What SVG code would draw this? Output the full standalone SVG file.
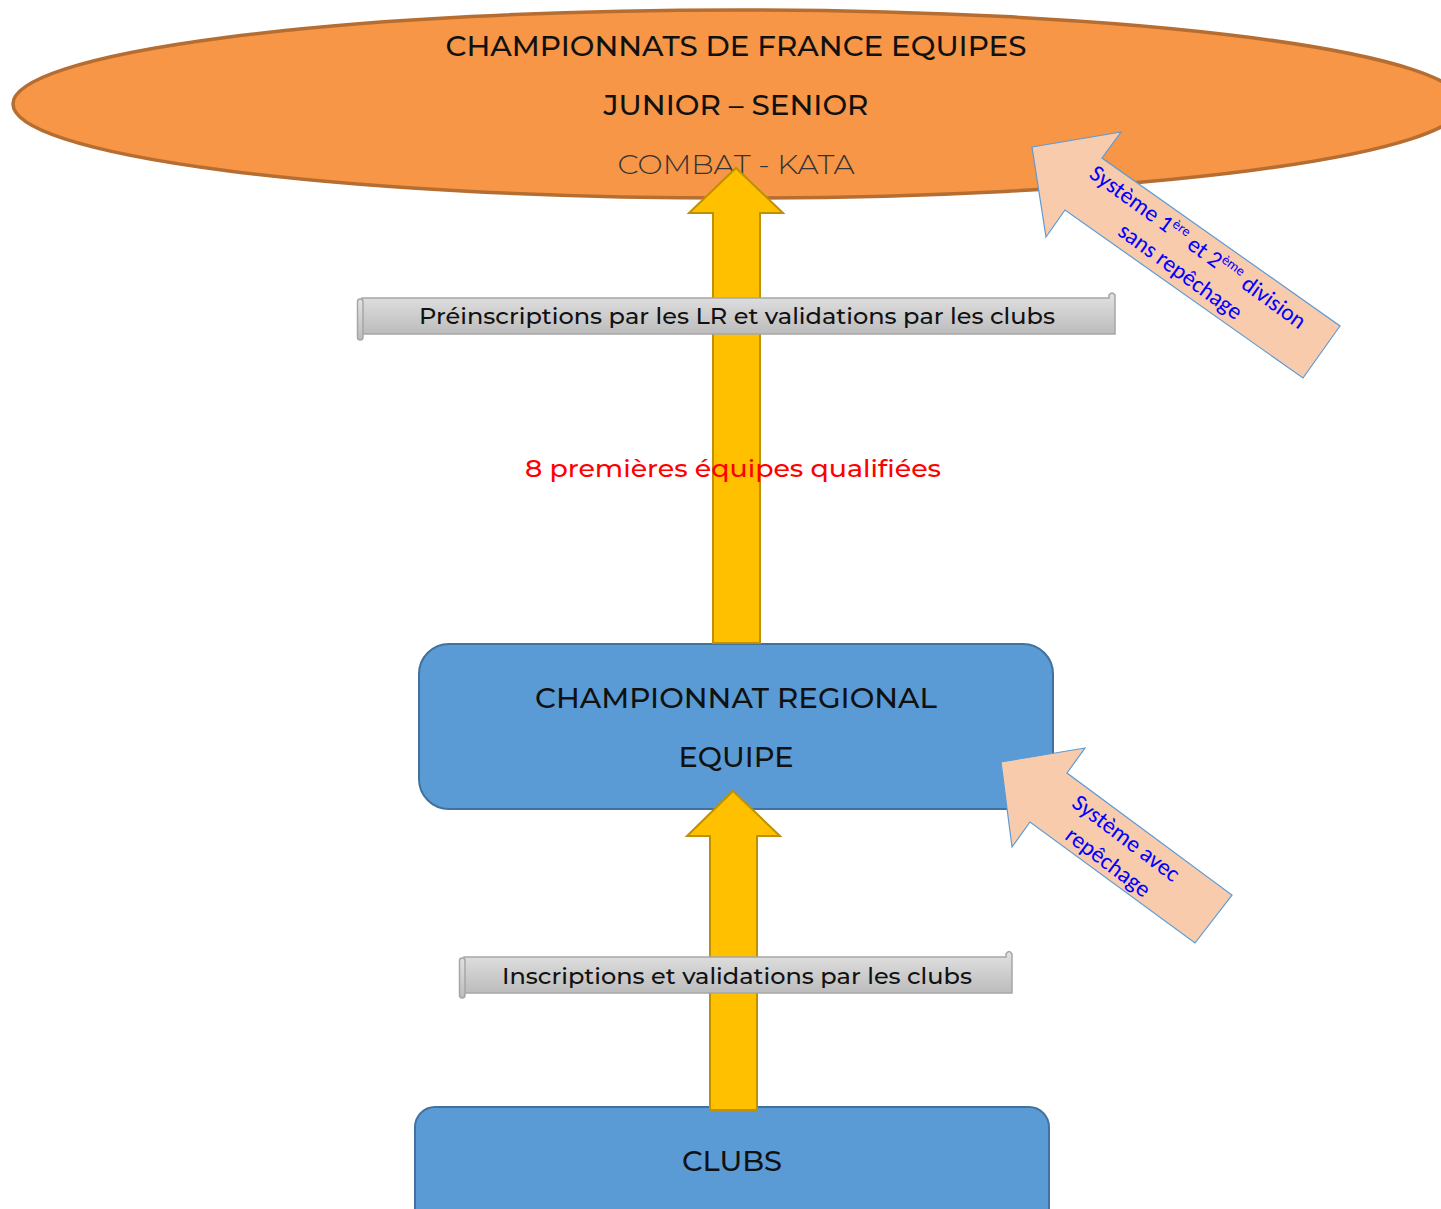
<svg xmlns="http://www.w3.org/2000/svg" width="1441" height="1209" viewBox="0 0 1441 1209">
<defs>
<linearGradient id="gray" x1="0" y1="0" x2="0" y2="1">
<stop offset="0" stop-color="#e2e2e2"/>
<stop offset="1" stop-color="#bcbcbc"/>
</linearGradient>
<style>
.t{font-family:Montserrat,"Inter","Open Sans",sans-serif;fill:#111;font-weight:500;}
.big{font-size:27px;text-anchor:middle;}
.ban{font-size:22px;text-anchor:middle;}
.blue{fill:#5B9BD5;stroke:#41719C;stroke-width:2;}
.yel{fill:#FFC000;stroke:#BF9000;stroke-width:2;}
.peach{fill:#F8CBAD;stroke:#5B9BD5;stroke-width:1.2;}
.scroll{fill:url(#gray);stroke:#a6a6a6;stroke-width:1.5;}
.d{font-family:Carlito,"Noto Sans","Open Sans",sans-serif;fill:#0000FF;font-size:23.5px;text-anchor:middle;}
</style>
</defs>
<g id="france">
<ellipse cx="738" cy="104" rx="725" ry="94" fill="#F79646" stroke="#B66D31" stroke-width="3.5"/>
<text class="t big" x="736" y="56" textLength="581" lengthAdjust="spacingAndGlyphs">CHAMPIONNATS DE FRANCE EQUIPES</text>
<text class="t big" x="736" y="115" textLength="265" lengthAdjust="spacingAndGlyphs">JUNIOR – SENIOR</text>
<text class="t big" x="736" y="174" textLength="237" lengthAdjust="spacingAndGlyphs" style="fill:#333;font-weight:300">COMBAT - KATA</text>
</g>
<g id="regional">
<rect class="blue" x="419" y="644" width="634" height="165" rx="30"/>
<text class="t big" x="736" y="708" textLength="402" lengthAdjust="spacingAndGlyphs">CHAMPIONNAT REGIONAL</text>
<text class="t big" x="736" y="767" textLength="115" lengthAdjust="spacingAndGlyphs">EQUIPE</text>
</g>
<g id="clubs">
<rect class="blue" x="415" y="1107" width="634" height="160" rx="20"/>
<text class="t big" x="732" y="1171" textLength="100" lengthAdjust="spacingAndGlyphs">CLUBS</text>
</g>
<g id="connectors">
<path class="yel" d="M713,643 L713,213 L689,213 L736,168 L783,213 L760,213 L760,643 Z"/>
<path class="yel" d="M710,1110 L710,836 L687,836 L733,791 L780,836 L757,836 L757,1110 Z"/>
</g>
<g id="banner1">
<path class="scroll" d="M362,298 L1109,298 L1109,295 Q1112,291 1115,295 L1115,334 L362,334 Z"/>
<rect class="scroll" x="357.5" y="299" width="5.5" height="41" rx="2.7"/>
<text class="t ban" x="737" y="324" textLength="636" lengthAdjust="spacingAndGlyphs">Préinscriptions par les LR et validations par les clubs</text>
</g>
<g id="label-qualif">
<text class="t" x="733" y="477" font-size="24" text-anchor="middle" style="fill:#FF0000" textLength="416" lengthAdjust="spacingAndGlyphs">8 premières équipes qualifiées</text>
</g>
<g id="banner2">
<path class="scroll" d="M464,957 L1006,957 L1006,954 Q1009,949 1012,954 L1012,993 L464,993 Z"/>
<rect class="scroll" x="459.5" y="958" width="5.5" height="40" rx="2.7"/>
<text class="t ban" x="737" y="984" textLength="470" lengthAdjust="spacingAndGlyphs">Inscriptions et validations par les clubs</text>
</g>
<g id="note1">
<path class="peach" d="M1032,147 L1121,132 L1102,158 L1340,326 L1303,378 L1065,210 L1046,237 Z"/>
<g transform="translate(1190,258) rotate(36)">
<text class="d" x="0" y="-6">Système 1<tspan font-size="14" dy="-9">ère</tspan><tspan dy="9"> et 2</tspan><tspan font-size="14" dy="-9">ème</tspan><tspan dy="9"> division</tspan></text>
<text class="d" x="0" y="24">sans repêchage</text>
</g>
</g>
<g id="note2">
<path class="peach" d="M1001,762 L1085,748 L1067,773 L1232,895 L1195,943 L1030,822 L1012,847 Z"/>
<g transform="translate(1118,849) rotate(37)">
<text class="d" x="0" y="-6">Système avec</text>
<text class="d" x="0" y="24">repêchage</text>
</g>
</g>
</svg>
